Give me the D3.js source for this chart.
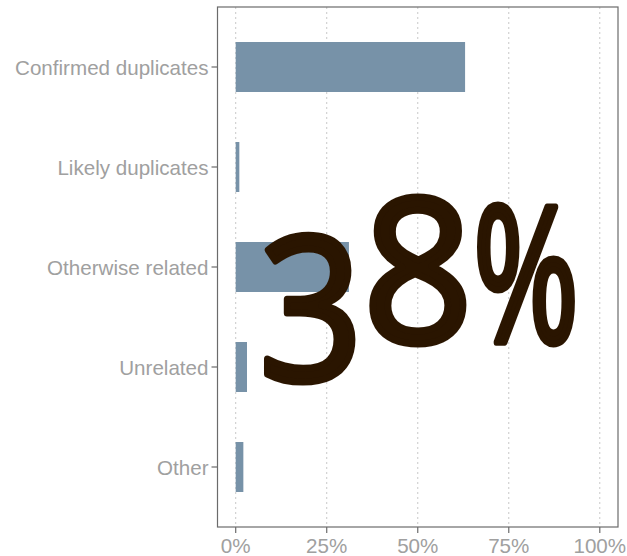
<!DOCTYPE html>
<html>
<head>
<meta charset="utf-8">
<script src="https://cdn.jsdelivr.net/npm/d3@7"></script>
<style>
  body { margin: 0; background: #fff; }
  svg { display: block; }
</style>
</head>
<body>
<div id="chart"></div>
<script>
// data
const categories = ["Confirmed duplicates", "Likely duplicates", "Otherwise related", "Unrelated", "Other"];
const shares = [0.63, 0.01, 0.311, 0.031, 0.021];
const xTicks = [0, 0.25, 0.5, 0.75, 1];
const bigLabel = ["3", "8", "%"];

const width = 627, height = 556;
const panel = { left: 217.5, right: 618, top: 7, bottom: 527 };

const svg = d3.select("#chart").append("svg")
    .attr("width", width)
    .attr("height", height);

// x: 0..1 with 5% expansion like ggplot
const x = d3.scaleLinear()
    .domain([-0.05, 1.05])
    .range([panel.left, panel.right]);

// y: discrete, 0.6 expansion each side -> 5.2 steps over the panel
const y = d3.scalePoint()
    .domain(categories)
    .range([panel.top + 0.6 * (panel.bottom - panel.top) / 5.2,
            panel.bottom - 0.6 * (panel.bottom - panel.top) / 5.2]);
const barH = y.step() * 0.5;

// grid
svg.append("g").selectAll("line")
    .data(xTicks)
    .enter().append("line")
    .attr("x1", d => x(d)).attr("x2", d => x(d))
    .attr("y1", panel.top).attr("y2", panel.bottom)
    .attr("stroke", "#c8c8c8")
    .attr("stroke-width", 1)
    .attr("stroke-dasharray", "2,3");

// bars
svg.append("g").selectAll("rect")
    .data(categories)
    .enter().append("rect")
    .attr("x", x(0))
    .attr("y", d => y(d) - barH / 2)
    .attr("width", (d, i) => x(shares[i]) - x(0))
    .attr("height", barH)
    .attr("fill", "#7792a8");

// panel border
svg.append("rect")
    .attr("x", panel.left).attr("y", panel.top)
    .attr("width", panel.right - panel.left)
    .attr("height", panel.bottom - panel.top)
    .attr("fill", "none")
    .attr("stroke", "#6b6b6b")
    .attr("stroke-width", 1.2);

// y axis ticks + labels
const yAxis = svg.append("g");
yAxis.selectAll("line")
    .data(categories)
    .enter().append("line")
    .attr("x1", panel.left - 6).attr("x2", panel.left)
    .attr("y1", d => y(d)).attr("y2", d => y(d))
    .attr("stroke", "#6b6b6b")
    .attr("stroke-width", 1.2);
yAxis.selectAll("text")
    .data(categories)
    .enter().append("text")
    .attr("x", panel.left - 9)
    .attr("y", d => y(d) + 1)
    .attr("dy", "0.35em")
    .attr("text-anchor", "end")
    .attr("font-family", "Liberation Sans, Arial, sans-serif")
    .attr("font-size", 20.6)
    .attr("fill", "#a0a0a0")
    .text(d => d);

// x axis ticks + labels
const xAxis = svg.append("g");
xAxis.selectAll("line")
    .data(xTicks)
    .enter().append("line")
    .attr("x1", d => x(d)).attr("x2", d => x(d))
    .attr("y1", panel.bottom).attr("y2", panel.bottom + 6)
    .attr("stroke", "#6b6b6b")
    .attr("stroke-width", 1.2);
xAxis.selectAll("text")
    .data(xTicks)
    .enter().append("text")
    .attr("x", d => x(d))
    .attr("y", panel.bottom + 26)
    .attr("text-anchor", "middle")
    .attr("font-family", "Liberation Sans, Arial, sans-serif")
    .attr("font-size", 20.6)
    .attr("fill", "#a0a0a0")
    .text(d => d3.format(".0%")(d));

// big overlay number (old-style "3" drops below the baseline)
// regular weight + a thin stroke stands in for semibold
const big = svg.append("text")
    .attr("x", 259)
    .attr("y", 342)
    .attr("font-family", "Open Sans, sans-serif")
    .attr("font-weight", 400)
    .attr("font-size", 200)
    .attr("fill", "#2a1500")
    .attr("stroke", "#2a1500")
    .attr("stroke-width", 7)
    .attr("stroke-linejoin", "round");
big.append("tspan").attr("dy", 38)
    .attr("textLength", 104).attr("lengthAdjust", "spacingAndGlyphs")
    .text(bigLabel[0]);
big.append("tspan").attr("dy", -38)
    .attr("textLength", 110).attr("lengthAdjust", "spacingAndGlyphs")
    .text(bigLabel[1]);
big.append("tspan")
    .attr("font-size", 188)
    .attr("textLength", 106).attr("lengthAdjust", "spacingAndGlyphs")
    .text(bigLabel[2]);
</script>
</body>
</html>
